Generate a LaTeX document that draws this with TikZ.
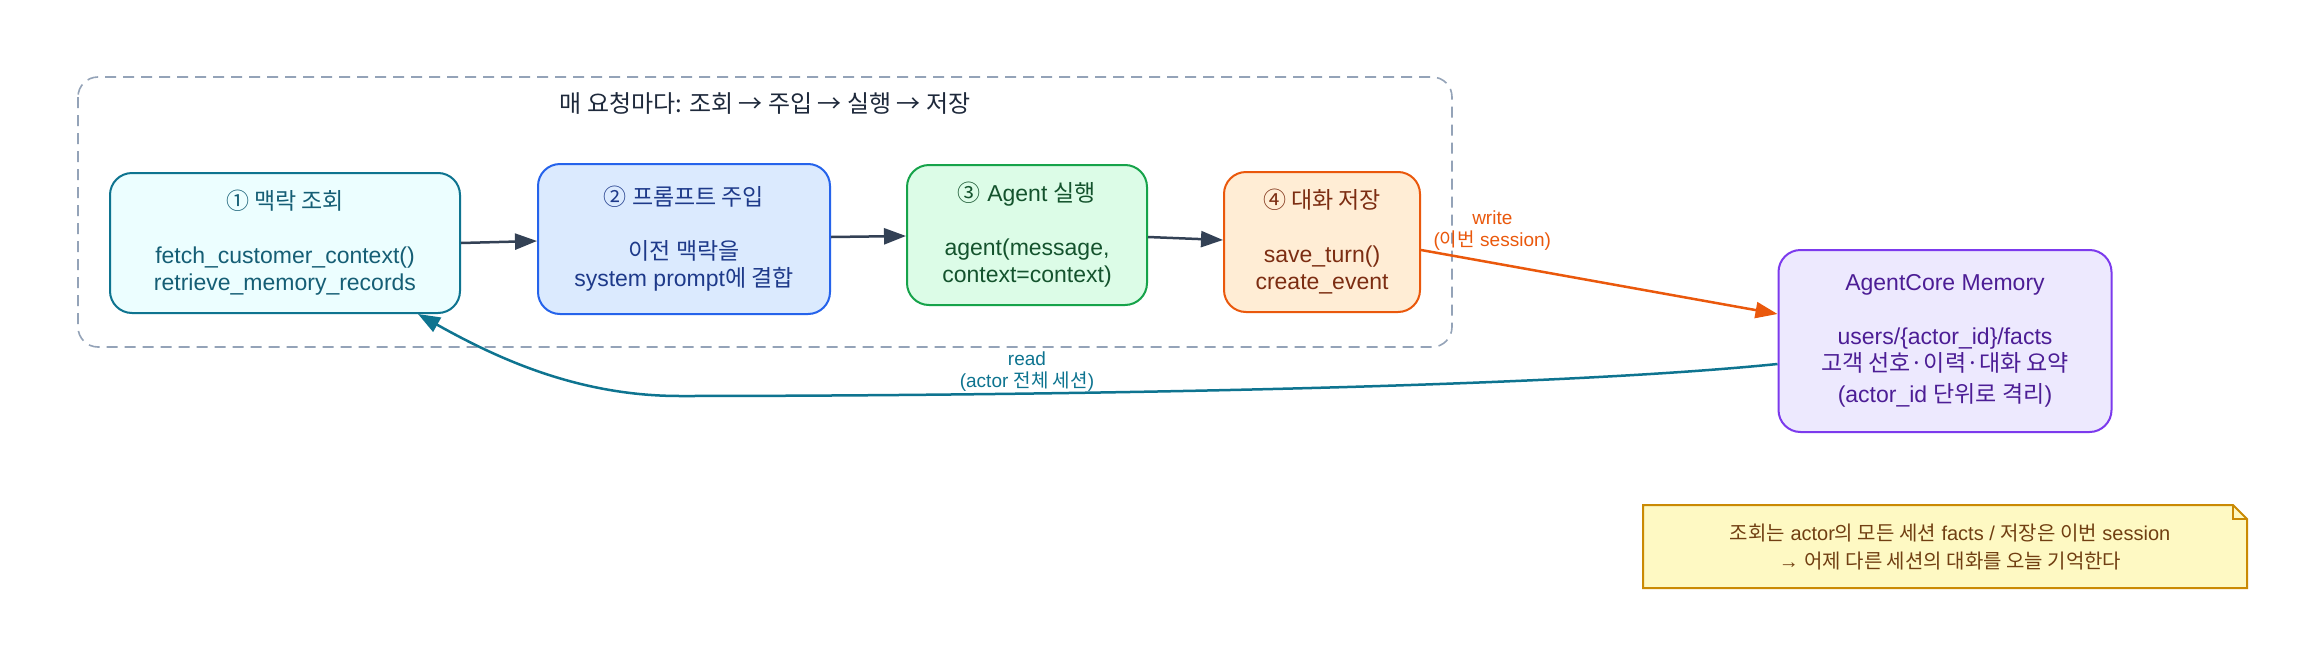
\documentclass[tikz,border=0pt]{standalone}
\usepackage{fontspec}
\setmainfont{Liberation Sans}
\newfontfamily\kofont{Noto Sans CJK KR}
\newcommand\ko[1]{{\kofont #1}}
\usetikzlibrary{arrows.meta}
\definecolor{c1f}{HTML}{ECFEFF}\definecolor{c1d}{HTML}{0E7490}\definecolor{c1t}{HTML}{155E75}
\definecolor{c2f}{HTML}{DBEAFE}\definecolor{c2d}{HTML}{2563EB}\definecolor{c2t}{HTML}{1E3A8A}
\definecolor{c3f}{HTML}{DCFCE7}\definecolor{c3d}{HTML}{16A34A}\definecolor{c3t}{HTML}{14532D}
\definecolor{c4f}{HTML}{FFEDD5}\definecolor{c4d}{HTML}{EA580C}\definecolor{c4t}{HTML}{7C2D12}
\definecolor{c5f}{HTML}{EDE9FE}\definecolor{c5d}{HTML}{7C3AED}\definecolor{c5t}{HTML}{4C1D95}
\definecolor{nf}{HTML}{FEF9C3}\definecolor{nd}{HTML}{CA8A04}\definecolor{nt}{HTML}{713F12}
\definecolor{ed}{HTML}{334155}\definecolor{cl}{HTML}{94A3B8}\definecolor{ct}{HTML}{1E293B}
\begin{document}
\begin{tikzpicture}[x=1pt,y=-1pt,
  box/.style={draw,line width=2pt,rounded corners=22pt,align=center,inner sep=0pt,
    font=\fontsize{23}{27}\selectfont},
  flow/.style={-{Triangle[length=22pt,width=16pt]},line width=2.5pt,draw=ed},
  lab/.style={font=\fontsize{19}{22}\selectfont,align=center}]
\useasboundingbox (0,0) rectangle (2302,648);
\fill[white] (0,0) rectangle (2302,648);
\draw[cl,line width=1.6pt,dash pattern=on 11pt off 7pt,rounded corners=20pt] (78,77) rectangle (1452,347);
\node[text=ct,font=\fontsize{24}{28}\selectfont] (title) at (765,103) {\ko{매 요청마다: 조회 → 주입 → 실행 → 저장}};
\node[box,draw=c1d,fill=c1f,text=c1t,minimum width=350pt,minimum height=140pt] (n1) at (285,243)
  {\ko{① 맥락 조회}\\[27pt] fetch\_customer\_context()\\ retrieve\_memory\_records};
\node[box,draw=c2d,fill=c2f,text=c2t,minimum width=292pt,minimum height=150pt] (n2) at (684,239)
  {\ko{② 프롬프트 주입}\\[27pt] \ko{이전 맥락을}\\ system prompt\ko{에 결합}};
\node[box,draw=c3d,fill=c3f,text=c3t,minimum width=240pt,minimum height=140pt] (n3) at (1027,235)
  {\ko{③} Agent \ko{실행}\\[27pt] agent(message,\\ context=context)};
\node[box,draw=c4d,fill=c4f,text=c4t,minimum width=196pt,minimum height=140pt] (n4) at (1322,242)
  {\ko{④ 대화 저장}\\[27pt] save\_turn()\\ create\_event};
\node[box,draw=c5d,fill=c5f,text=c5t,minimum width=333pt,minimum height=182pt] (mem) at (1945,341)
  {AgentCore Memory\\[27pt] users/\{actor\_id\}/facts\\ \ko{고객 선호·이력·대화 요약}\\[4pt] (actor\_id \ko{단위로 격리})};
\draw[flow] (n1.east |- 0,243) -- (n2.west |- 0,241);
\draw[flow] (n2.east |- 0,237) -- (n3.west |- 0,236);
\draw[flow] (n3.east |- 0,237) -- (n4.west |- 0,240);
\draw[c4d,line width=2.5pt,-{Triangle[length=22pt,width=16pt]}] (n4.east |- 0,250) -- (mem.west |- 0,314) node[pos=0.2,lab,text=c4d,above,yshift=8pt] {write\\(\ko{이번} session)};
\coordinate (rd) at (680,396);
\draw[c1d,line width=2.5pt,-{Triangle[length=22pt,width=16pt]}] (mem.west |- 0,364) .. controls (1500,392) and (900,396) .. (rd) .. controls (580,396) and (500,360) .. (418,314);
\node[lab,text=c1d] (rl) at (1027,372) {read\\(actor \ko{전체 세션})};
\node[inner sep=0pt] (note) at (1945,547) {};
\draw[nd,fill=nf,line width=2pt] (1643,505) -- (2233,505) -- (2247,519) -- (2247,588) -- (1643,588) -- cycle;
\draw[nd,line width=1.5pt] (2233,505) -- (2233,519) -- (2247,519);
\node[text=nt,align=center,font=\fontsize{20}{28}\selectfont] (notet) at (1950,547)
  {\ko{조회는} actor\ko{의 모든 세션} facts / \ko{저장은 이번} session\\ → \ko{어제 다른 세션의 대화를 오늘 기억한다}};
\end{tikzpicture}
\end{document}
